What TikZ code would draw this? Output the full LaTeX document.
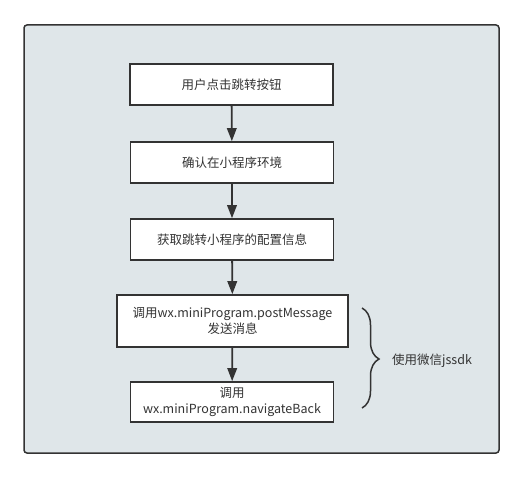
\documentclass[tikz,border=0pt]{standalone}
\usepackage{fontspec}
\setmainfont{Noto Sans CJK SC}
\usetikzlibrary{arrows.meta,decorations.pathreplacing}
\definecolor{bgfill}{HTML}{DFE6E9}
\definecolor{ink}{HTML}{333333}
\begin{document}
\begin{tikzpicture}[x=1bp,y=-1bp,
  stepbox/.style={draw=ink,line width=1.6bp,fill=white,inner sep=0pt,
    align=center,text=ink,font=\fontsize{12.5bp}{16bp}\selectfont},
  flow/.style={draw=ink,line width=1.8bp,-{Triangle[width=9.5bp,length=13bp]}}]
\useasboundingbox (0,0) rectangle (527,480);
\draw[draw=ink,fill=bgfill,line width=1.5bp,rounded corners=3bp] (24,25) rectangle (499,453);
\node[stepbox,minimum width=203bp,minimum height=41bp] (b1) at (231.5,84.5) {用户点击跳转按钮};
\node[stepbox,minimum width=203bp,minimum height=41bp] (b2) at (232,162.5) {确认在小程序环境};
\node[stepbox,minimum width=203bp,minimum height=41bp] (b3) at (232,239.5) {获取跳转小程序的配置信息};
\node[stepbox,minimum width=231bp,minimum height=52bp] (b4) at (232.5,321) {调用wx.miniProgram.postMessage\\发送消息};
\node[stepbox,minimum width=203bp,minimum height=40bp] (b5) at (232,402) {调用\\wx.miniProgram.navigateBack};
\draw[flow] (b1) -- (b2);
\draw[flow] (b2) -- (b3);
\draw[flow] (b3) -- (b4);
\draw[flow] (b4) -- (b5);
\coordinate (bt) at (362,308);
\coordinate (bb) at (362,408);
\draw[draw=ink,line width=1.5bp,decorate,decoration={brace,amplitude=17bp,aspect=0.51}] (bt) -- (bb);
\node[anchor=west,text=ink,inner sep=0pt,font=\fontsize{12.5bp}{16bp}\selectfont] (lbl) at (392,361) {使用微信jssdk};
\end{tikzpicture}
\end{document}
